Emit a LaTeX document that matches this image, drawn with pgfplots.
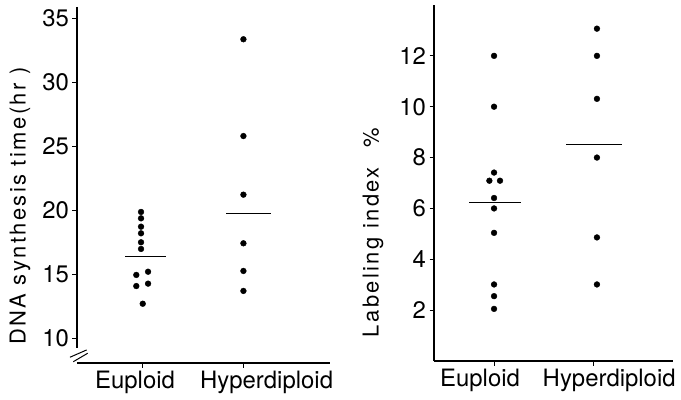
\documentclass[border=0pt]{standalone}
\usepackage{fontspec}
\setmainfont{TeX Gyre Heros}
\newfontfamily\lblfont[LetterSpace=11]{TeX Gyre Heros}
\usepackage{pgfplots}
\pgfplotsset{compat=1.18}

\pgfplotsset{
  dotplot/.style={
    scale only axis,
    axis x line*=bottom,
    axis y line*=left,
    axis line style={line width=1.1bp, black},
    tick align=outside,
    tick style={line width=1bp, black},
    major tick length=4.5bp,
    xtick={0,1},
    tick label style={font=\fontsize{24}{28}\selectfont},
    /pgf/number format/assume math mode=true,
    y label style={font=\lblfont\fontsize{22}{26}\selectfont, anchor=center},
    clip=false,
  },
  dots/.style={only marks, mark=*, mark size=2.9bp, black},
  mean/.style={black, line width=1bp, no marks},
}
\tikzset{catmark/.style={line width=1bp, black}}

\begin{document}
\begin{tikzpicture}
\useasboundingbox (0,0) rectangle (681bp,400bp);

% DNA synthesis time
\begin{axis}[dotplot,
  at={(77bp,37bp)}, anchor=south west,
  width=253bp, height=356bp,
  xmin=-0.653, xmax=1.86, ymin=8.07, ymax=35.88,
  ytick={10,15,20,25,30,35},
  y axis line style={draw=none},
  xticklabels={Euploid\hspace*{15.4bp}, \hspace*{46.4bp}Hyperdiploid},
  ylabel={DNA synthesis time(hr )},
  y label style={at={(axis description cs:-0.225,0.441)}},
]
\addplot[dots] coordinates {
  (-0.017,19.87) (-0.017,19.37) (-0.017,18.72) (-0.017,18.20)
  (-0.017,17.50) (-0.017,16.98) (-0.064,14.95) (0.053,15.20)
  (-0.064,14.08) (0.053,14.27) (0,12.70)
};
\addplot[mean] coordinates {(-0.176,16.38) (0.232,16.38)};
\addplot[dots] coordinates {
  (1,33.36) (1,25.80) (1,21.22) (1,17.42) (1,15.26) (1,13.70)
};
\addplot[mean] coordinates {(0.828,19.74) (1.272,19.74)};
% category tick marks
\draw[catmark] (axis cs:0,8.07) -- ([yshift=-4.5bp]axis cs:0,8.07);
\draw[catmark] (axis cs:1,8.07) -- ([yshift=-4.5bp]axis cs:1,8.07);
% broken y axis
\draw[line width=1.1bp] (axis cs:-0.653,35.88) -- (axis cs:-0.653,9.24);
\draw[line width=1bp] (axis cs:-0.723,8.52) -- (axis cs:-0.557,9.09);
\draw[line width=1bp] (axis cs:-0.690,8.17) -- (axis cs:-0.547,8.83);
\end{axis}

% Labeling index
\begin{axis}[dotplot,
  at={(434bp,39bp)}, anchor=south west,
  width=239bp, height=356bp,
  xmin=-0.604, xmax=1.80, ymin=0, ymax=14.0,
  ytick={2,4,6,8,10,12},
  xticklabels={Euploid\hspace*{28bp}, \hspace*{31.4bp}Hyperdiploid},
  ylabel={Labeling index\hspace{20bp}\%},
  y label style={at={(axis description cs:-0.255,0.361)}},
]
\addplot[dots] coordinates {
  (0,12.00) (0,10.00) (0,7.41) (-0.047,7.09) (0.060,7.09) (0,6.41)
  (0,6.00) (0,5.04) (0,3.01) (0,2.55) (0,2.05)
};
\addplot[mean] coordinates {(-0.249,6.22) (0.269,6.22)};
\addplot[dots] coordinates {
  (1.035,13.07) (1.035,12.00) (1.035,10.31) (1.035,8.00) (1.035,4.86) (1.035,3.01)
};
\addplot[mean] coordinates {(0.725,8.50) (1.286,8.50)};
% category tick marks
\draw[catmark] (axis cs:0,0) -- ([yshift=-4.5bp]axis cs:0,0);
\draw[catmark] (axis cs:1,0) -- ([yshift=-4.5bp]axis cs:1,0);
\end{axis}
\end{tikzpicture}
\end{document}
